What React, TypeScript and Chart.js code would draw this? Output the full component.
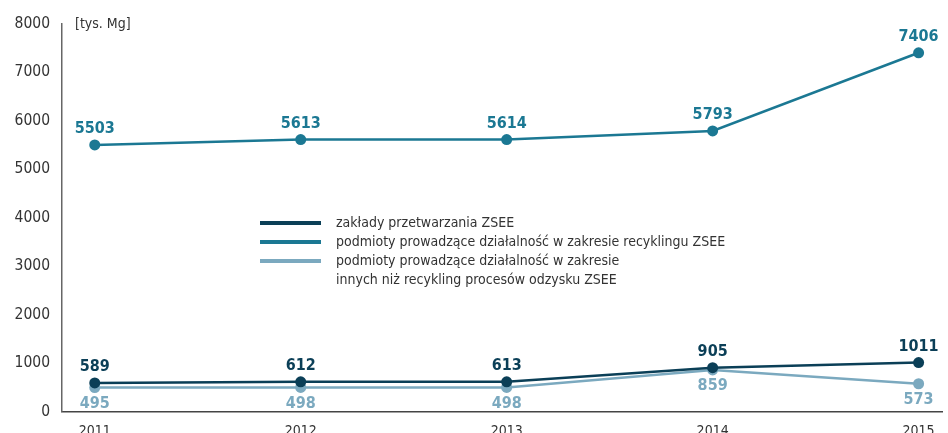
import React, { useEffect, useRef } from "react";
import { Chart, registerables } from "chart.js";

Chart.register(...registerables);

const years = [2011, 2012, 2013, 2014, 2015];
const zaklady = [589, 612, 613, 905, 1011];
const recykling = [5503, 5613, 5614, 5793, 7406];
const inne = [495, 498, 498, 859, 573];
const yTicks = [0, 1000, 2000, 3000, 4000, 5000, 6000, 7000, 8000];
const seriesNames = [
  ["zakłady przetwarzania ZSEE"],
  ["podmioty prowadzące działalność w zakresie recyklingu ZSEE"],
  ["podmioty prowadzące działalność w zakresie", "innych niż recykling procesów odzysku ZSEE"],
];
const unitLabel = "[tys. Mg]";

const COLORS = ["#0b3f57", "#1b7893", "#7ba9bf"];
const LABEL_POS = ["above", "above", "below"];
const FONT = "'DejaVu Sans Condensed', 'DejaVu Sans', sans-serif";

const labelsPlugin = {
  id: "customLabels",
  afterDatasetsDraw(chart: any) {
    const ctx = chart.ctx;
    ctx.save();
    ctx.font = `bold 16px ${FONT}`;
    ctx.textAlign = "center";
    ctx.textBaseline = "middle";
    chart.data.datasets.forEach((ds: any, i: number) => {
      const meta = chart.getDatasetMeta(i);
      ctx.fillStyle = COLORS[i];
      meta.data.forEach((pt: any, j: number) => {
        const v = ds.data[j].y;
        const dy = LABEL_POS[i] === "above" ? -16 : 16;
        ctx.fillText(String(v), pt.x, pt.y + dy);
      });
    });
    // unit label
    ctx.font = `14px ${FONT}`;
    ctx.fillStyle = "#333";
    ctx.textAlign = "left";
    ctx.fillText(unitLabel, 75, 24);
    // legend
    const lx = 260;
    const tx = 336;
    let y = 223;
    seriesNames.forEach((lines, i) => {
      ctx.strokeStyle = COLORS[i];
      ctx.lineWidth = 4;
      ctx.beginPath();
      ctx.moveTo(lx, y);
      ctx.lineTo(lx + 61, y);
      ctx.stroke();
      ctx.fillStyle = "#333";
      lines.forEach((ln, k) => {
        ctx.fillText(ln, tx, y + k * 19);
      });
      y += 19 * lines.length;
    });
    ctx.restore();
  },
};

export default function App() {
  const ref = useRef<HTMLCanvasElement>(null);
  useEffect(() => {
    if (!ref.current) return;
    const series = [zaklady, recykling, inne];
    const chart = new Chart(ref.current, {
      type: "line",
      data: {
        datasets: series.map((s, i) => ({
          label: seriesNames[i].join(" "),
          data: s.map((v, j) => ({ x: years[j], y: v })),
          borderColor: COLORS[i],
          backgroundColor: COLORS[i],
          borderWidth: 2.5,
          pointRadius: 5.5,
          pointBackgroundColor: COLORS[i],
          pointBorderWidth: 0,
          tension: 0,
          clip: false as any,
        })),
      },
      options: {
        animation: false,
        responsive: false,
        layout: { padding: { top: 24, right: 0, left: 0, bottom: 0 } },
        plugins: { legend: { display: false }, tooltip: { enabled: false } },
        scales: {
          x: {
            type: "linear",
            min: 2010.841,
            max: 2015.116,
            grid: { display: false, drawTicks: false },
            border: { display: true, color: "#444", width: 1.5 },
            ticks: {
              padding: 11,
              color: "#333",
              font: { family: FONT, size: 14 },
              callback: (v: any) => String(v),
            },
            afterBuildTicks: (axis: any) => {
              axis.ticks = years.map((v) => ({ value: v }));
            },
            afterFit: (axis: any) => {
              axis.height = 21.5;
            },
          },
          y: {
            min: 0,
            max: 8000,
            grid: { display: false, drawTicks: false },
            border: { display: true, color: "#666", width: 1.5 },
            ticks: {
              padding: 12,
              color: "#333",
              font: { family: FONT, size: 15.5 },
              callback: (v: any) => String(v),
            },
            afterBuildTicks: (axis: any) => {
              axis.ticks = yTicks.map((v) => ({ value: v }));
            },
            afterFit: (axis: any) => {
              axis.width = 62;
            },
          },
        },
      },
      plugins: [labelsPlugin],
    });
    return () => chart.destroy();
  }, []);
  return (
    <div style={{ position: "fixed", left: 0, top: 0, width: 948, height: 433, background: "#fff" }}>
      <canvas ref={ref} width={948} height={433} style={{ width: 948, height: 433 }} />
    </div>
  );
}
